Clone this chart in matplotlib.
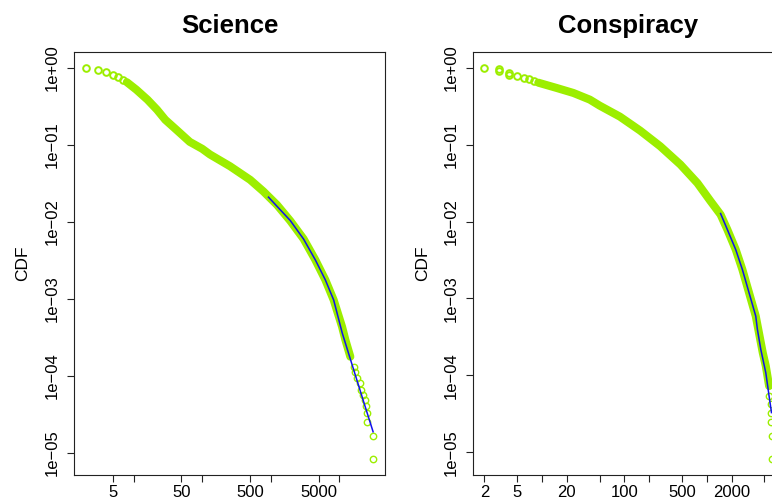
import numpy as np
import matplotlib
matplotlib.use('Agg')
import matplotlib.pyplot as plt
from matplotlib.ticker import NullLocator

plt.rcParams['font.family'] = ['Liberation Sans', 'DejaVu Sans']

GREEN = '#9CEE00'

# ---- Science: CCDF ----
sci_head_x = [2, 3, 4, 5, 6, 7]
sci_head_y = [1.0, 0.94, 0.88, 0.81, 0.75, 0.70]
# dense part (thousands of overlapping circles -> solid band)
sci_band_x = [8, 11, 16, 22, 29, 43, 66, 100, 130, 255, 500, 780, 1230,
              1920, 3000, 4450, 6220, 8230, 10900, 12200, 14400]
sci_band_y = [0.648, 0.518, 0.384, 0.285, 0.211, 0.154, 0.109, 0.0887, 0.0748,
              0.0526, 0.0351, 0.0248, 0.0166, 0.0103, 0.00601, 0.00321,
              0.00177, 0.00097, 0.000437, 0.000294, 0.000178]
sci_tail_x = [16100, 17100, 18100, 19700, 20700, 22100, 23900, 24700, 25300,
              25300, 30500, 31300]
sci_tail_y = [1.32e-4, 1.14e-4, 9.3e-5, 8.0e-5, 6.6e-5, 5.7e-5, 4.9e-5, 4.1e-5,
              3.3e-5, 2.5e-5, 1.65e-5, 8.3e-6]
sci_fit_x = [925, 1920, 3000, 4450, 6220, 8230, 11000, 15600, 22100, 30900]
sci_fit_y = [0.0209, 0.0104, 0.00598, 0.00321, 0.00177, 0.00097, 3.59e-4,
             1.32e-4, 4.88e-5, 1.89e-5]
sci_xticks = [5, 10, 50, 100, 500, 1000, 5000, 10000]
sci_xlabels = ['5', '', '50', '', '500', '', '5000', '']

# ---- Conspiracy ----
con_head_x = [2, 3, 3, 4, 4, 5, 6, 7, 8]
con_head_y = [1.0, 0.95, 0.90, 0.86, 0.81, 0.78, 0.73, 0.705, 0.678]
con_band_x = [9, 15, 24, 38, 50, 88, 155, 272, 478, 769, 1109, 1469, 1774,
              2240, 2700, 3252, 3926, 4775, 5200, 5700]
con_band_y = [0.638, 0.545, 0.469, 0.384, 0.321, 0.231, 0.152, 0.0951, 0.0550,
              0.0316, 0.0184, 0.0123, 0.00787, 0.00433, 0.00238, 0.00119,
              5.89e-4, 1.97e-4, 1.32e-4, 7.26e-5]
con_tail_x = [5700, 5990, 5990, 5990, 6100, 6100]
con_tail_y = [5.38e-5, 4.2e-5, 3.28e-5, 2.48e-5, 1.63e-5, 8.1e-6]
con_fit_x = [1469, 1774, 2240, 2700, 3252, 3926, 4111, 4519, 5200, 5700, 6095]
con_fit_y = [0.0127, 0.00787, 0.00433, 0.00238, 0.00119, 5.89e-4, 3.96e-4,
             2.18e-4, 1.08e-4, 5.38e-5, 3.28e-5]
con_xticks = [2, 5, 10, 20, 50, 100, 200, 500, 1000, 2000, 5000]
con_xlabels = ['2', '5', '', '20', '', '100', '', '500', '', '2000', '']

yticks = [1e0, 1e-1, 1e-2, 1e-3, 1e-4, 1e-5]
ylabels = ['1e+00', '1e\u221201', '1e\u221202', '1e\u221203', '1e\u221204', '1e\u221205']


def r_lim(vals):
    # R style: data range widened by 4% on each side (log axis)
    lo, hi = np.log10(min(vals)), np.log10(max(vals))
    d = 0.04 * (hi - lo)
    return 10 ** (lo - d), 10 ** (hi + d)


def panel(ax, title, hx, hy, bx, by, tx, ty, fx, fy, xt, xl):
    ax.plot(bx, by, color=GREEN, lw=5.8, solid_capstyle='round',
            solid_joinstyle='round')
    ax.plot(hx, hy, 'o', mfc='none', mec=GREEN, ms=4.8, mew=1.4)
    ax.plot(tx, ty, 'o', mfc='none', mec=GREEN, ms=4.6, mew=1.0)
    ax.plot(fx, fy, color='#1010ee', lw=1.1)
    ax.set_xscale('log')
    ax.set_yscale('log')
    allx = hx + bx + tx
    ally = hy + by + ty
    ax.set_xlim(*r_lim(allx))
    ax.set_ylim(*r_lim(ally))
    ax.set_xticks(xt, labels=xl)
    ax.set_yticks(yticks, labels=ylabels, rotation=90, va='center')
    ax.xaxis.set_minor_locator(NullLocator())
    ax.yaxis.set_minor_locator(NullLocator())
    ax.tick_params(axis='both', length=5, width=0.8, labelsize=12, color='#222222')
    ax.tick_params(axis='x', pad=2)
    ax.tick_params(axis='y', pad=5)
    for s in ax.spines.values():
        s.set_linewidth(0.8)
        s.set_color('#222222')
    ax.set_title(title, fontsize=18.5, fontweight='bold', pad=13.5)
    ax.set_ylabel('CDF', fontsize=12.5)
    ax.yaxis.label.set_va('center')


fig = plt.figure(figsize=(7.72, 5.01), dpi=100)
ax1 = fig.add_axes([74 / 772, 26 / 501, 311 / 772, 423 / 501])
ax2 = fig.add_axes([473 / 772, 26 / 501, 310 / 772, 423 / 501])

panel(ax1, 'Science', sci_head_x, sci_head_y, sci_band_x, sci_band_y,
      sci_tail_x, sci_tail_y, sci_fit_x, sci_fit_y, sci_xticks, sci_xlabels)
panel(ax2, 'Conspiracy', con_head_x, con_head_y, con_band_x, con_band_y,
      con_tail_x, con_tail_y, con_fit_x, con_fit_y, con_xticks, con_xlabels)
ax1.yaxis.set_label_coords(-0.166, 0.5)
ax2.yaxis.set_label_coords(-0.163, 0.5)

fig.savefig('out.png', dpi=100)
